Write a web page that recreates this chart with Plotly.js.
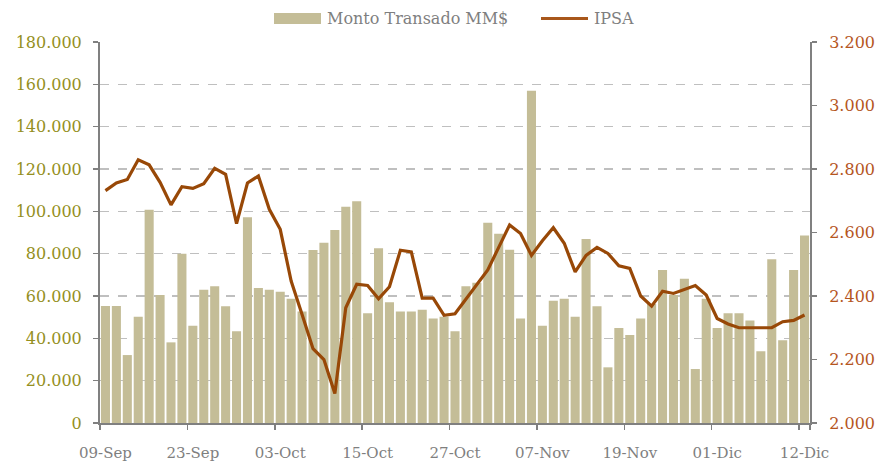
<!DOCTYPE html>
<html>
<head>
<meta charset="utf-8">
<script src="https://cdn.plot.ly/plotly-3.0.1.min.js"></script>
<style>
html,body{margin:0;padding:0;background:#fff;}
#chart{width:878px;height:463px;}
</style>
</head>
<body>
<div id="chart"></div>
<script>
const fechas = [
"09-Sep","10-Sep","11-Sep","12-Sep","15-Sep","16-Sep","17-Sep","22-Sep","23-Sep","24-Sep","25-Sep","26-Sep","29-Sep","30-Sep",
"01-Oct","02-Oct","03-Oct","06-Oct","07-Oct","08-Oct","09-Oct","10-Oct","13-Oct","14-Oct","15-Oct","16-Oct","17-Oct","20-Oct","21-Oct","22-Oct","23-Oct","24-Oct","27-Oct","28-Oct","29-Oct","30-Oct",
"03-Nov","04-Nov","05-Nov","06-Nov","07-Nov","10-Nov","11-Nov","12-Nov","13-Nov","14-Nov","17-Nov","18-Nov","19-Nov","20-Nov","21-Nov","24-Nov","25-Nov","26-Nov","27-Nov","28-Nov",
"01-Dic","02-Dic","03-Dic","04-Dic","05-Dic","09-Dic","10-Dic","11-Dic","12-Dic"
];
const montoTransado = [
55300,55300,32100,50200,100700,60500,38100,80000,45900,63000,
64600,55200,43400,97200,63800,63000,62000,58700,52700,81700,
85100,91200,102200,104800,51900,82600,57000,52700,52700,53500,
49400,50200,43400,64600,66300,94600,89400,81800,49400,157000,
45900,57800,58700,50200,86900,55200,26300,44900,41600,49400,
56200,72300,60500,68200,25500,58700,44900,51900,51900,48400,
33900,77400,39100,72300,88600
];
const ipsa = [
2732,2756,2767,2829,2813,2758,2687,2744,2739,2754,
2802,2783,2628,2756,2778,2673,2610,2447,2342,2234,
2200,2093,2363,2437,2433,2391,2429,2544,2539,2393,
2393,2339,2344,2389,2437,2482,2553,2624,2597,2528,
2574,2615,2566,2476,2528,2553,2534,2495,2487,2400,
2368,2415,2408,2421,2433,2403,2329,2312,2300,2300,
2300,2300,2319,2323,2340
];
const seriesNames = ['Monto Transado MM$', 'IPSA'];
const tickLabels = fechas.filter((d,i)=> i % 8 === 0);

const FONT = "DejaVu Serif";
const BAR_COLOR = '#C4BD97';
const LINE_COLOR = '#984807';
const W = 878, H = 463, M = {l:100, r:68, t:42, b:40};
const px = x => (x - M.l) / (W - M.l - M.r);
const py = y => (H - M.b - y) / (H - M.t - M.b);

const traces = [
  {type:'bar', name:seriesNames[0], x:fechas, y:montoTransado,
   marker:{color:BAR_COLOR, line:{width:0}}, yaxis:'y'},
  {type:'scatter', mode:'lines', name:seriesNames[1], x:fechas, y:ipsa,
   line:{color:LINE_COLOR, width:3.2}, yaxis:'y2'}
];
const layout = {
  width:W, height:H,
  margin:{l:M.l, r:M.r, t:M.t, b:M.b, autoexpand:false},
  paper_bgcolor:'#fff', plot_bgcolor:'#fff',
  separators:',.',
  bargap:0.17,
  font:{family:FONT, size:15, color:'#7f7f7f'},
  showlegend:false,
  xaxis:{type:'category', categoryorder:'array', categoryarray:fechas,
         tickmode:'array', tickvals:tickLabels, ticktext:tickLabels, tickangle:0,
         tickson:'boundaries', ticks:'outside', ticklen:5, tickwidth:1.5, tickcolor:'#808080',
         ticklabelstandoff:15,
         showline:true, linecolor:'#808080', linewidth:2, showgrid:false, zeroline:false,
         tickfont:{family:FONT, size:15, color:'#7f7f7f'}, range:[-0.5, fechas.length-0.5]},
  yaxis:{range:[0,180000], dtick:20000, tickformat:',d', showline:true, linecolor:'#808080', linewidth:2,
         ticks:'outside', ticklen:5, tickwidth:1.5, tickcolor:'#808080', ticklabelstandoff:8,
         showgrid:true, gridcolor:'#BFBFBF', griddash:'dash', gridwidth:1.4, zeroline:false,
         tickfont:{family:FONT, size:16, color:'#948F22'}},
  yaxis2:{overlaying:'y', side:'right', range:[2000,3200], dtick:200, tickformat:',d',
          showline:true, linecolor:'#808080', linewidth:2,
          ticks:'outside', ticklen:5, tickwidth:1.5, tickcolor:'#808080', ticklabelstandoff:9,
          showgrid:false, zeroline:false,
          tickfont:{family:FONT, size:16, color:'#B5561F'}},
  shapes:[
    {type:'rect', xref:'paper', yref:'paper', x0:px(274), x1:px(321), y0:py(24), y1:py(13),
     fillcolor:BAR_COLOR, line:{width:0}},
    {type:'line', xref:'paper', yref:'paper', x0:px(541), x1:px(588), y0:py(18.5), y1:py(18.5),
     line:{color:'#A8571B', width:3}}
  ],
  annotations:[
    {xref:'paper', yref:'paper', x:px(325), y:py(18.5), xanchor:'left', yanchor:'middle',
     text:seriesNames[0], showarrow:false, font:{family:FONT, size:16, color:'#7f7f7f'}},
    {xref:'paper', yref:'paper', x:px(592), y:py(18.5), xanchor:'left', yanchor:'middle',
     text:seriesNames[1], showarrow:false, font:{family:FONT, size:16, color:'#7f7f7f'}}
  ]
};
Plotly.newPlot('chart', traces, layout, {displayModeBar:false, staticPlot:true});
</script>
</body>
</html>
